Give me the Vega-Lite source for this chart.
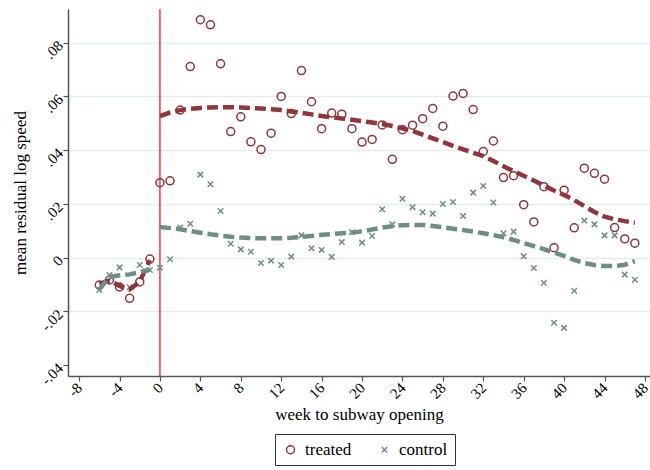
{
  "$schema": "https://vega.github.io/schema/vega-lite/v6.json",
  "autosize": "none",
  "width": 582,
  "height": 367,
  "padding": {"left": 68, "top": 9, "right": 0, "bottom": 94},
  "background": "white",
  "config": {
    "view": {"stroke": null},
    "font": "Liberation Serif",
    "axis": {"labelFont": "Liberation Serif", "titleFont": "Liberation Serif", "labelColor": "black", "titleColor": "black", "titleFontWeight": "normal", "domainColor": "#555", "tickColor": "#555", "domainWidth": 1.5, "tickWidth": 1.2, "tickSize": 5},
    "legend": {"labelFont": "Liberation Serif"}
  },
  "datasets": {
    "pts": [
      {"week": -6, "value": -0.0102, "group": "treated"},
      {"week": -5, "value": -0.0083, "group": "treated"},
      {"week": -4, "value": -0.0109, "group": "treated"},
      {"week": -3, "value": -0.0151, "group": "treated"},
      {"week": -2, "value": -0.0090, "group": "treated"},
      {"week": -1, "value": -0.0005, "group": "treated"},
      {"week": 0, "value": 0.0279, "group": "treated"},
      {"week": 1, "value": 0.0286, "group": "treated"},
      {"week": 2, "value": 0.0549, "group": "treated"},
      {"week": 3, "value": 0.0711, "group": "treated"},
      {"week": 4, "value": 0.0885, "group": "treated"},
      {"week": 5, "value": 0.0866, "group": "treated"},
      {"week": 6, "value": 0.0721, "group": "treated"},
      {"week": 7, "value": 0.0469, "group": "treated"},
      {"week": 8, "value": 0.0524, "group": "treated"},
      {"week": 9, "value": 0.0431, "group": "treated"},
      {"week": 10, "value": 0.0402, "group": "treated"},
      {"week": 11, "value": 0.0463, "group": "treated"},
      {"week": 12, "value": 0.0600, "group": "treated"},
      {"week": 13, "value": 0.0536, "group": "treated"},
      {"week": 14, "value": 0.0696, "group": "treated"},
      {"week": 15, "value": 0.0580, "group": "treated"},
      {"week": 16, "value": 0.0480, "group": "treated"},
      {"week": 17, "value": 0.0538, "group": "treated"},
      {"week": 18, "value": 0.0534, "group": "treated"},
      {"week": 19, "value": 0.0480, "group": "treated"},
      {"week": 20, "value": 0.0430, "group": "treated"},
      {"week": 21, "value": 0.0440, "group": "treated"},
      {"week": 22, "value": 0.0494, "group": "treated"},
      {"week": 23, "value": 0.0366, "group": "treated"},
      {"week": 24, "value": 0.0476, "group": "treated"},
      {"week": 25, "value": 0.0493, "group": "treated"},
      {"week": 26, "value": 0.0517, "group": "treated"},
      {"week": 27, "value": 0.0555, "group": "treated"},
      {"week": 28, "value": 0.0489, "group": "treated"},
      {"week": 29, "value": 0.0601, "group": "treated"},
      {"week": 30, "value": 0.0611, "group": "treated"},
      {"week": 31, "value": 0.0551, "group": "treated"},
      {"week": 32, "value": 0.0395, "group": "treated"},
      {"week": 33, "value": 0.0434, "group": "treated"},
      {"week": 34, "value": 0.0298, "group": "treated"},
      {"week": 35, "value": 0.0305, "group": "treated"},
      {"week": 36, "value": 0.0197, "group": "treated"},
      {"week": 37, "value": 0.0133, "group": "treated"},
      {"week": 38, "value": 0.0264, "group": "treated"},
      {"week": 39, "value": 0.0037, "group": "treated"},
      {"week": 40, "value": 0.0251, "group": "treated"},
      {"week": 41, "value": 0.0111, "group": "treated"},
      {"week": 42, "value": 0.0333, "group": "treated"},
      {"week": 43, "value": 0.0314, "group": "treated"},
      {"week": 44, "value": 0.0292, "group": "treated"},
      {"week": 45, "value": 0.0112, "group": "treated"},
      {"week": 46, "value": 0.0070, "group": "treated"},
      {"week": 47, "value": 0.0054, "group": "treated"},
      {"week": -6, "value": -0.0120, "group": "control"},
      {"week": -5, "value": -0.0064, "group": "control"},
      {"week": -4, "value": -0.0036, "group": "control"},
      {"week": -3, "value": -0.0110, "group": "control"},
      {"week": -2, "value": -0.0027, "group": "control"},
      {"week": -1, "value": -0.0046, "group": "control"},
      {"week": 0, "value": -0.0037, "group": "control"},
      {"week": 1, "value": -0.0006, "group": "control"},
      {"week": 2, "value": 0.0112, "group": "control"},
      {"week": 3, "value": 0.0126, "group": "control"},
      {"week": 4, "value": 0.0309, "group": "control"},
      {"week": 5, "value": 0.0273, "group": "control"},
      {"week": 6, "value": 0.0174, "group": "control"},
      {"week": 7, "value": 0.0052, "group": "control"},
      {"week": 8, "value": 0.0031, "group": "control"},
      {"week": 9, "value": 0.0022, "group": "control"},
      {"week": 10, "value": -0.0020, "group": "control"},
      {"week": 11, "value": -0.0011, "group": "control"},
      {"week": 12, "value": -0.0027, "group": "control"},
      {"week": 13, "value": 0.0004, "group": "control"},
      {"week": 14, "value": 0.0083, "group": "control"},
      {"week": 15, "value": 0.0035, "group": "control"},
      {"week": 16, "value": 0.0029, "group": "control"},
      {"week": 17, "value": 0.0003, "group": "control"},
      {"week": 18, "value": 0.0058, "group": "control"},
      {"week": 19, "value": 0.0095, "group": "control"},
      {"week": 20, "value": 0.0056, "group": "control"},
      {"week": 21, "value": 0.0081, "group": "control"},
      {"week": 22, "value": 0.0180, "group": "control"},
      {"week": 23, "value": 0.0124, "group": "control"},
      {"week": 24, "value": 0.0219, "group": "control"},
      {"week": 25, "value": 0.0188, "group": "control"},
      {"week": 26, "value": 0.0169, "group": "control"},
      {"week": 27, "value": 0.0164, "group": "control"},
      {"week": 28, "value": 0.0200, "group": "control"},
      {"week": 29, "value": 0.0207, "group": "control"},
      {"week": 30, "value": 0.0155, "group": "control"},
      {"week": 31, "value": 0.0242, "group": "control"},
      {"week": 32, "value": 0.0267, "group": "control"},
      {"week": 33, "value": 0.0205, "group": "control"},
      {"week": 34, "value": 0.0091, "group": "control"},
      {"week": 35, "value": 0.0097, "group": "control"},
      {"week": 36, "value": 0.0005, "group": "control"},
      {"week": 37, "value": -0.0038, "group": "control"},
      {"week": 38, "value": -0.0093, "group": "control"},
      {"week": 39, "value": -0.0242, "group": "control"},
      {"week": 40, "value": -0.0261, "group": "control"},
      {"week": 41, "value": -0.0123, "group": "control"},
      {"week": 42, "value": 0.0138, "group": "control"},
      {"week": 43, "value": 0.0124, "group": "control"},
      {"week": 44, "value": 0.0083, "group": "control"},
      {"week": 45, "value": 0.0083, "group": "control"},
      {"week": 46, "value": -0.0063, "group": "control"},
      {"week": 47, "value": -0.0082, "group": "control"}
    ],
    "fit": [
      {"week": -6, "value": -0.0097, "group": "treated", "period": "pre"},
      {"week": -5, "value": -0.0085, "group": "treated", "period": "pre"},
      {"week": -4, "value": -0.0105, "group": "treated", "period": "pre"},
      {"week": -3, "value": -0.0118, "group": "treated", "period": "pre"},
      {"week": -2, "value": -0.0089, "group": "treated", "period": "pre"},
      {"week": -1, "value": -0.0009, "group": "treated", "period": "pre"},
      {"week": -6, "value": -0.0118, "group": "control", "period": "pre"},
      {"week": -5, "value": -0.0072, "group": "control", "period": "pre"},
      {"week": -4, "value": -0.0065, "group": "control", "period": "pre"},
      {"week": -3, "value": -0.0062, "group": "control", "period": "pre"},
      {"week": -2, "value": -0.0054, "group": "control", "period": "pre"},
      {"week": -1, "value": -0.0044, "group": "control", "period": "pre"},
      {"week": 0, "value": 0.0527, "group": "treated", "period": "post"},
      {"week": 1, "value": 0.0540, "group": "treated", "period": "post"},
      {"week": 2, "value": 0.0549, "group": "treated", "period": "post"},
      {"week": 3, "value": 0.0554, "group": "treated", "period": "post"},
      {"week": 4, "value": 0.0557, "group": "treated", "period": "post"},
      {"week": 5, "value": 0.0559, "group": "treated", "period": "post"},
      {"week": 6, "value": 0.0560, "group": "treated", "period": "post"},
      {"week": 7, "value": 0.0560, "group": "treated", "period": "post"},
      {"week": 8, "value": 0.0559, "group": "treated", "period": "post"},
      {"week": 9, "value": 0.0557, "group": "treated", "period": "post"},
      {"week": 10, "value": 0.0555, "group": "treated", "period": "post"},
      {"week": 11, "value": 0.0552, "group": "treated", "period": "post"},
      {"week": 12, "value": 0.0549, "group": "treated", "period": "post"},
      {"week": 13, "value": 0.0544, "group": "treated", "period": "post"},
      {"week": 14, "value": 0.0539, "group": "treated", "period": "post"},
      {"week": 15, "value": 0.0533, "group": "treated", "period": "post"},
      {"week": 16, "value": 0.0527, "group": "treated", "period": "post"},
      {"week": 17, "value": 0.0522, "group": "treated", "period": "post"},
      {"week": 18, "value": 0.0518, "group": "treated", "period": "post"},
      {"week": 19, "value": 0.0513, "group": "treated", "period": "post"},
      {"week": 20, "value": 0.0508, "group": "treated", "period": "post"},
      {"week": 21, "value": 0.0503, "group": "treated", "period": "post"},
      {"week": 22, "value": 0.0497, "group": "treated", "period": "post"},
      {"week": 23, "value": 0.0490, "group": "treated", "period": "post"},
      {"week": 24, "value": 0.0481, "group": "treated", "period": "post"},
      {"week": 25, "value": 0.0471, "group": "treated", "period": "post"},
      {"week": 26, "value": 0.0458, "group": "treated", "period": "post"},
      {"week": 27, "value": 0.0444, "group": "treated", "period": "post"},
      {"week": 28, "value": 0.0430, "group": "treated", "period": "post"},
      {"week": 29, "value": 0.0416, "group": "treated", "period": "post"},
      {"week": 30, "value": 0.0403, "group": "treated", "period": "post"},
      {"week": 31, "value": 0.0390, "group": "treated", "period": "post"},
      {"week": 32, "value": 0.0378, "group": "treated", "period": "post"},
      {"week": 33, "value": 0.0360, "group": "treated", "period": "post"},
      {"week": 34, "value": 0.0340, "group": "treated", "period": "post"},
      {"week": 35, "value": 0.0322, "group": "treated", "period": "post"},
      {"week": 36, "value": 0.0305, "group": "treated", "period": "post"},
      {"week": 37, "value": 0.0287, "group": "treated", "period": "post"},
      {"week": 38, "value": 0.0268, "group": "treated", "period": "post"},
      {"week": 39, "value": 0.0250, "group": "treated", "period": "post"},
      {"week": 40, "value": 0.0233, "group": "treated", "period": "post"},
      {"week": 41, "value": 0.0214, "group": "treated", "period": "post"},
      {"week": 42, "value": 0.0192, "group": "treated", "period": "post"},
      {"week": 43, "value": 0.0170, "group": "treated", "period": "post"},
      {"week": 44, "value": 0.0153, "group": "treated", "period": "post"},
      {"week": 45, "value": 0.0143, "group": "treated", "period": "post"},
      {"week": 46, "value": 0.0136, "group": "treated", "period": "post"},
      {"week": 47, "value": 0.0130, "group": "treated", "period": "post"},
      {"week": 0, "value": 0.0114, "group": "control", "period": "post"},
      {"week": 1, "value": 0.0110, "group": "control", "period": "post"},
      {"week": 2, "value": 0.0106, "group": "control", "period": "post"},
      {"week": 3, "value": 0.0099, "group": "control", "period": "post"},
      {"week": 4, "value": 0.0093, "group": "control", "period": "post"},
      {"week": 5, "value": 0.0087, "group": "control", "period": "post"},
      {"week": 6, "value": 0.0082, "group": "control", "period": "post"},
      {"week": 7, "value": 0.0078, "group": "control", "period": "post"},
      {"week": 8, "value": 0.0075, "group": "control", "period": "post"},
      {"week": 9, "value": 0.0073, "group": "control", "period": "post"},
      {"week": 10, "value": 0.0072, "group": "control", "period": "post"},
      {"week": 11, "value": 0.0072, "group": "control", "period": "post"},
      {"week": 12, "value": 0.0072, "group": "control", "period": "post"},
      {"week": 13, "value": 0.0074, "group": "control", "period": "post"},
      {"week": 14, "value": 0.0077, "group": "control", "period": "post"},
      {"week": 15, "value": 0.0081, "group": "control", "period": "post"},
      {"week": 16, "value": 0.0085, "group": "control", "period": "post"},
      {"week": 17, "value": 0.0088, "group": "control", "period": "post"},
      {"week": 18, "value": 0.0091, "group": "control", "period": "post"},
      {"week": 19, "value": 0.0094, "group": "control", "period": "post"},
      {"week": 20, "value": 0.0098, "group": "control", "period": "post"},
      {"week": 21, "value": 0.0105, "group": "control", "period": "post"},
      {"week": 22, "value": 0.0112, "group": "control", "period": "post"},
      {"week": 23, "value": 0.0117, "group": "control", "period": "post"},
      {"week": 24, "value": 0.0121, "group": "control", "period": "post"},
      {"week": 25, "value": 0.0122, "group": "control", "period": "post"},
      {"week": 26, "value": 0.0122, "group": "control", "period": "post"},
      {"week": 27, "value": 0.0118, "group": "control", "period": "post"},
      {"week": 28, "value": 0.0113, "group": "control", "period": "post"},
      {"week": 29, "value": 0.0108, "group": "control", "period": "post"},
      {"week": 30, "value": 0.0103, "group": "control", "period": "post"},
      {"week": 31, "value": 0.0097, "group": "control", "period": "post"},
      {"week": 32, "value": 0.0091, "group": "control", "period": "post"},
      {"week": 33, "value": 0.0084, "group": "control", "period": "post"},
      {"week": 34, "value": 0.0076, "group": "control", "period": "post"},
      {"week": 35, "value": 0.0066, "group": "control", "period": "post"},
      {"week": 36, "value": 0.0054, "group": "control", "period": "post"},
      {"week": 37, "value": 0.0043, "group": "control", "period": "post"},
      {"week": 38, "value": 0.0032, "group": "control", "period": "post"},
      {"week": 39, "value": 0.0019, "group": "control", "period": "post"},
      {"week": 40, "value": 0.0007, "group": "control", "period": "post"},
      {"week": 41, "value": -0.0008, "group": "control", "period": "post"},
      {"week": 42, "value": -0.0020, "group": "control", "period": "post"},
      {"week": 43, "value": -0.0027, "group": "control", "period": "post"},
      {"week": 44, "value": -0.0031, "group": "control", "period": "post"},
      {"week": 45, "value": -0.0031, "group": "control", "period": "post"},
      {"week": 46, "value": -0.0026, "group": "control", "period": "post"},
      {"week": 47, "value": -0.0013, "group": "control", "period": "post"}
    ]
  },
  "layer": [
    {
      "data": {"values": [{"week": 0}]},
      "mark": {"type": "rule", "color": "#ff0000", "strokeWidth": 1.2},
      "encoding": {
        "x": {"field": "week", "type": "quantitative", "scale": {"domain": [-9.1, 48.5], "nice": false, "zero": false}}
      }
    },
    {
      "data": {"name": "pts"},
      "mark": {"type": "point", "filled": false, "strokeWidth": 1.5, "opacity": 1},
      "encoding": {
        "x": {
          "field": "week", "type": "quantitative",
          "scale": {"domain": [-9.1, 48.5], "nice": false, "zero": false},
          "axis": {
            "values": [-8, -4, 0, 4, 8, 12, 16, 20, 24, 28, 32, 36, 40, 44, 48],
            "labelExpr": "(datum.value < 0 ? '-' : '') + abs(datum.value)",
            "labelAngle": -45, "labelAlign": "right", "labelBaseline": "middle", "labelFontSize": 15, "labelPadding": 4,
            "grid": false,
            "title": "week to subway opening", "titleFontSize": 17,
            "titleX": 291, "titleY": 43, "titleBaseline": "alphabetic", "titleAlign": "center"
          }
        },
        "y": {
          "field": "value", "type": "quantitative",
          "scale": {"domain": [-0.044, 0.0925], "nice": false, "zero": false},
          "axis": {
            "values": [-0.04, -0.02, 0, 0.02, 0.04, 0.06, 0.08],
            "labelExpr": "datum.value == 0 ? '0' : ((datum.value < 0 ? '-' : '') + replace(format(abs(datum.value), '.2f'), '0.', '.'))",
            "labelAngle": -45, "labelAlign": "right", "labelBaseline": "middle", "labelFontSize": 15, "labelPadding": 3,
            "grid": true, "gridColor": "#e3ecef", "gridWidth": 1.5,
            "gridOpacity": {"condition": {"test": "datum.value < -0.03", "value": 0}, "value": 1},
            "title": "mean residual log speed", "titleFontSize": 17,
            "titleAngle": -90, "titleX": -48, "titleY": 183.5, "titleBaseline": "middle", "titleAlign": "center"
          }
        },
        "color": {
          "field": "group", "type": "nominal",
          "scale": {"domain": ["treated", "control"], "range": ["#90353B", "#6E8E84"]},
          "legend": {
            "title": null, "orient": "none", "legendX": 207, "legendY": 425,
            "direction": "horizontal", "columns": 2,
            "strokeColor": "#333", "fillColor": "white", "padding": 7,
            "labelFontSize": 17, "labelColor": "black", "symbolSize": 40, "symbolStrokeWidth": 1.5,
            "columnPadding": 24, "labelOffset": 6
          }
        },
        "shape": {
          "field": "group", "type": "nominal",
          "scale": {"domain": ["treated", "control"], "range": ["circle", "M-1,-1L1,1M-1,1L1,-1"]}
        },
        "size": {
          "field": "group", "type": "nominal", "legend": null,
          "scale": {"domain": ["treated", "control"], "range": [64, 30]}
        }
      }
    },
    {
      "data": {"name": "fit"},
      "mark": {"type": "line", "strokeWidth": 4.5, "strokeDash": [11, 5]},
      "encoding": {
        "x": {"field": "week", "type": "quantitative"},
        "y": {"field": "value", "type": "quantitative"},
        "stroke": {
          "field": "group", "type": "nominal", "legend": null,
          "scale": {"domain": ["treated", "control"], "range": ["#90353B", "#6E8E84"]}
        },
        "detail": {"field": "period", "type": "nominal"}
      }
    }
  ]
}
